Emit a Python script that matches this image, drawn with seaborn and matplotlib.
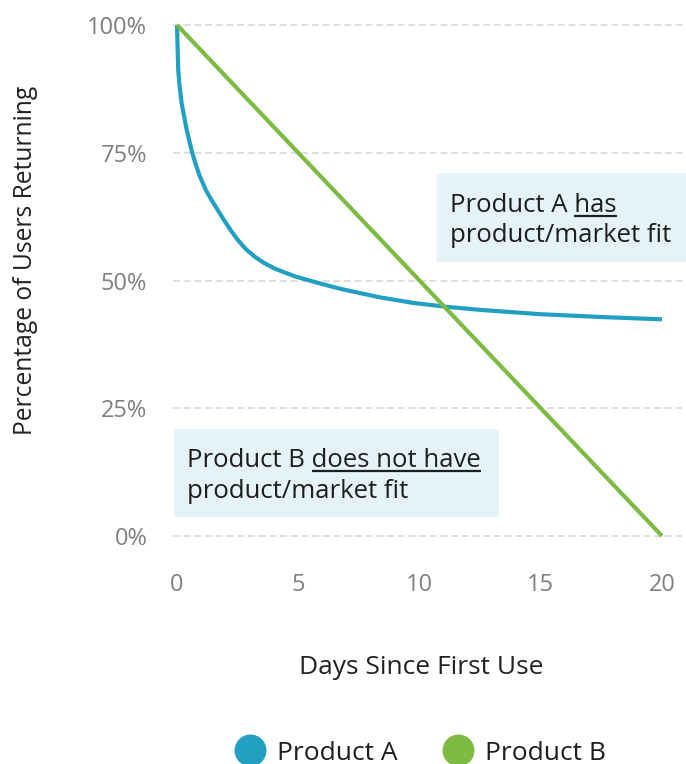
import matplotlib
matplotlib.use("Agg")
import matplotlib.pyplot as plt
from matplotlib.patches import FancyBboxPatch
from matplotlib.lines import Line2D
import seaborn as sns
import pandas as pd

# Retention curves (days since first use -> % of users returning)
days_a = [0, 0.05, 0.1, 0.19, 0.4, 0.61, 0.78, 0.95, 1.2, 1.43, 1.98, 2.25, 2.53, 2.85,
          3.22, 3.6, 4.04, 4.87, 5.83, 6.8, 8.37, 9.75, 11.12, 12.5, 15.0, 17.5, 20.0]
retention_a = [100, 91.2, 88.3, 84.7, 79.5, 75.3, 72.6, 70.3, 67.6, 65.7, 61.5, 59.6, 57.8,
               56.1, 54.6, 53.4, 52.3, 50.8, 49.5, 48.3, 46.7, 45.6, 44.85, 44.25, 43.4,
               42.85, 42.4]
days_b = [0, 20]
retention_b = [100, 0]

products = ["Product A", "Product B"]
colors = ["#21a0c2", "#7dbb42"]
x_ticks = [0, 5, 10, 15, 20]
y_ticks = [0, 25, 50, 75, 100]
y_tick_labels = ["0%", "25%", "50%", "75%", "100%"]

df = pd.concat([
    pd.DataFrame({"day": days_a, "pct": retention_a, "product": products[0]}),
    pd.DataFrame({"day": days_b, "pct": retention_b, "product": products[1]}),
])

sns.set_theme(style="white")
plt.rcParams["font.family"] = ["Open Sans", "DejaVu Sans"]

W, H = 686, 764
fig = plt.figure(figsize=(W / 100, H / 100), dpi=100)
ax_top, ax_bot = 14.8, 546.2
ax = fig.add_axes([173 / W, 1 - ax_bot / H, (W - 173) / W, (ax_bot - ax_top) / H])

sns.lineplot(data=df, x="day", y="pct", hue="product", palette=colors,
             linewidth=3, ax=ax, legend=False, sort=True, estimator=None)
for ln in ax.lines:
    ln.set_solid_capstyle("butt")
    ln.set_solid_joinstyle("round")

ax.set_xlim(-0.165, 20.99)
ax.set_ylim(-2, 102)
for s in ax.spines.values():
    s.set_visible(False)

for y in y_ticks:
    ax.axhline(y, color="#d6d6d6", lw=1.1, ls=(0, (4.5, 2.5)), zorder=0)

ax.set_xticks(x_ticks)
ax.set_yticks(y_ticks)
ax.set_yticklabels(y_tick_labels)
ax.tick_params(axis="both", length=0, labelsize=17, labelcolor="#808080")
ax.tick_params(axis="y", pad=18.5)
ax.tick_params(axis="x", pad=19.5)
ax.set_xlabel("")
ax.set_ylabel("")

fig.text(421 / W, 1 - 668 / H, "Days Since First Use", ha="center", va="center",
         fontsize=19, color="#222222")
fig.text(26 / W, 1 - 260 / H, "Percentage of Users Returning", ha="center",
         va="center", rotation=90, fontsize=17.7, color="#222222")

# Annotation boxes
box_kw = dict(boxstyle="round,pad=0,rounding_size=0.15", facecolor="#e5f3f8",
              edgecolor="none", zorder=1, clip_on=False)
ax.add_patch(FancyBboxPatch((10.7, 53.6), 10.6, 17.4, **box_kw))
ax.add_patch(FancyBboxPatch((-0.12, 3.7), 13.4, 17.2, **box_kw))

ANN_SIZE = 18.5
text_kw = dict(fontsize=ANN_SIZE, color="#1e1e1e", va="baseline", ha="left", zorder=3)
ax.text(11.26, 57.5, "product/market fit", **text_kw)
t_a = ax.text(11.26, 63.4, "Product A has", **text_kw)
ax.text(0.41, 7.4, "product/market fit", **text_kw)
t_b = ax.text(0.41, 13.5, "Product B does not have", **text_kw)

# Underline the final words of the first lines
fig.canvas.draw()
renderer = fig.canvas.get_renderer()
inv = ax.transData.inverted()


def underline(txt, words, y_data):
    full = txt.get_window_extent(renderer)
    probe = ax.text(0, 0, words, fontsize=ANN_SIZE, alpha=0)
    w = probe.get_window_extent(renderer).width
    probe.remove()
    x0 = inv.transform((full.x1 - w, 0))[0]
    x1 = inv.transform((full.x1, 0))[0]
    ax.plot([x0, x1], [y_data, y_data], color="#1e1e1e", lw=1.6,
            solid_capstyle="butt", zorder=3)


underline(t_a, "has", 62.6)
underline(t_b, "does not have", 12.8)

handles = [Line2D([], [], ls="none", marker="o", markersize=23,
                  markerfacecolor=c, markeredgecolor="none") for c in colors]
fig.legend(handles, products, loc="center", bbox_to_anchor=(420 / W, 1 - 753 / H),
           ncol=2, frameon=False, fontsize=19, handletextpad=0.42,
           columnspacing=1.7, handlelength=1.2, labelcolor="#1e1e1e")

fig.savefig("out.png", dpi=100)
